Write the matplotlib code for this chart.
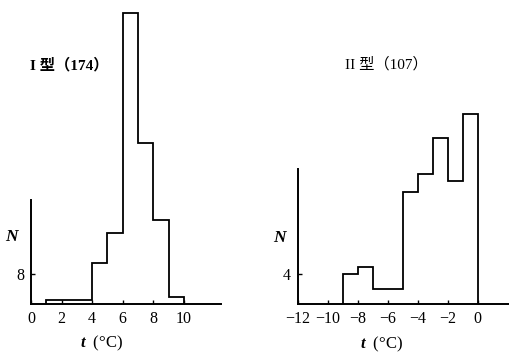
import matplotlib.pyplot as plt
import numpy as np

# type I: temperature bins (deg C) and counts
edges_1 = [1, 2, 4, 5, 6, 7, 8, 9, 10]
counts_1 = [1, 1.2, 11, 19, 77.5, 43, 22.5, 1.8]
title_1 = "I 型（174）"

# type II
edges_2 = [-9, -8, -7, -5, -4, -3, -2, -1, 0]
counts_2 = [4, 5, 2, 15, 17.4, 22.2, 16.4, 25.4]
title_2 = "II 型（107）"

xticks_1 = [0, 2, 4, 6, 8, 10]
yticks_1 = [8]
xticks_2 = [-12, -10, -8, -6, -4, -2, 0]
yticks_2 = [4]
xlabel = r"$\mathbfit{t}$  (°C)"

FONT = ["Liberation Serif", "Noto Sans CJK SC"]
plt.rcParams["font.family"] = FONT
plt.rcParams["mathtext.fontset"] = "custom"
plt.rcParams["mathtext.bfit"] = "Liberation Serif:italic:bold"

W, H = 510, 353
fig = plt.figure(figsize=(W / 100, H / 100), dpi=100)


def _axes(x0_px, base_px, w_px, h_px):
    return fig.add_axes([x0_px / W, (H - base_px) / H, w_px / W, h_px / H])


def _style(ax, xticks, yticks, ybound, xbound):
    for side in ("top", "right"):
        ax.spines[side].set_visible(False)
    for side in ("left", "bottom"):
        ax.spines[side].set_linewidth(1.4)
    ax.spines["left"].set_bounds(0, ybound)
    ax.spines["bottom"].set_bounds(*xbound)
    ax.set_xticks(xticks)
    ax.set_yticks(yticks)
    ax.tick_params(direction="in", length=3, width=1.0, labelsize=11.5, pad=5)
    ax.patch.set_visible(False)


ax1 = _axes(31, 304, 12.5 * 15.3, 300)
ax1.set_xlim(0, 12.5)
ax1.set_ylim(0, 80)
ax1.stairs(counts_1, edges_1, baseline=0, color="black", lw=1.3)
_style(ax1, xticks_1, yticks_1, 27.7, (0, 12.4))
ax1.text(2.48, 63.7, title_1, ha="center", va="center", fontsize=11, fontweight="bold")
ax1.text(-1.25, 17.9, "N", ha="center", va="center", fontsize=12.5,
         fontweight="bold", style="italic", clip_on=False)
ax1.text(4.58, -10.4, xlabel, ha="center", va="center", fontsize=12, clip_on=False)

ax2 = _axes(297.7, 304, 14.15 * 15, 300)
ax2.set_xlim(-12, 2.15)
ax2.set_ylim(0, 40)
ax2.stairs(counts_2, edges_2, baseline=0, color="black", lw=1.3)
_style(ax2, xticks_2, yticks_2, 18, (-12, 2.15))
ax2.text(-6.11, 32.0, title_2, ha="center", va="center", fontsize=11)
ax2.text(-13.2, 8.8, "N", ha="center", va="center", fontsize=12.5,
         fontweight="bold", style="italic", clip_on=False)
ax2.text(-6.43, -5.33, xlabel, ha="center", va="center", fontsize=12, clip_on=False)

fig.savefig("out.png", dpi=100)
